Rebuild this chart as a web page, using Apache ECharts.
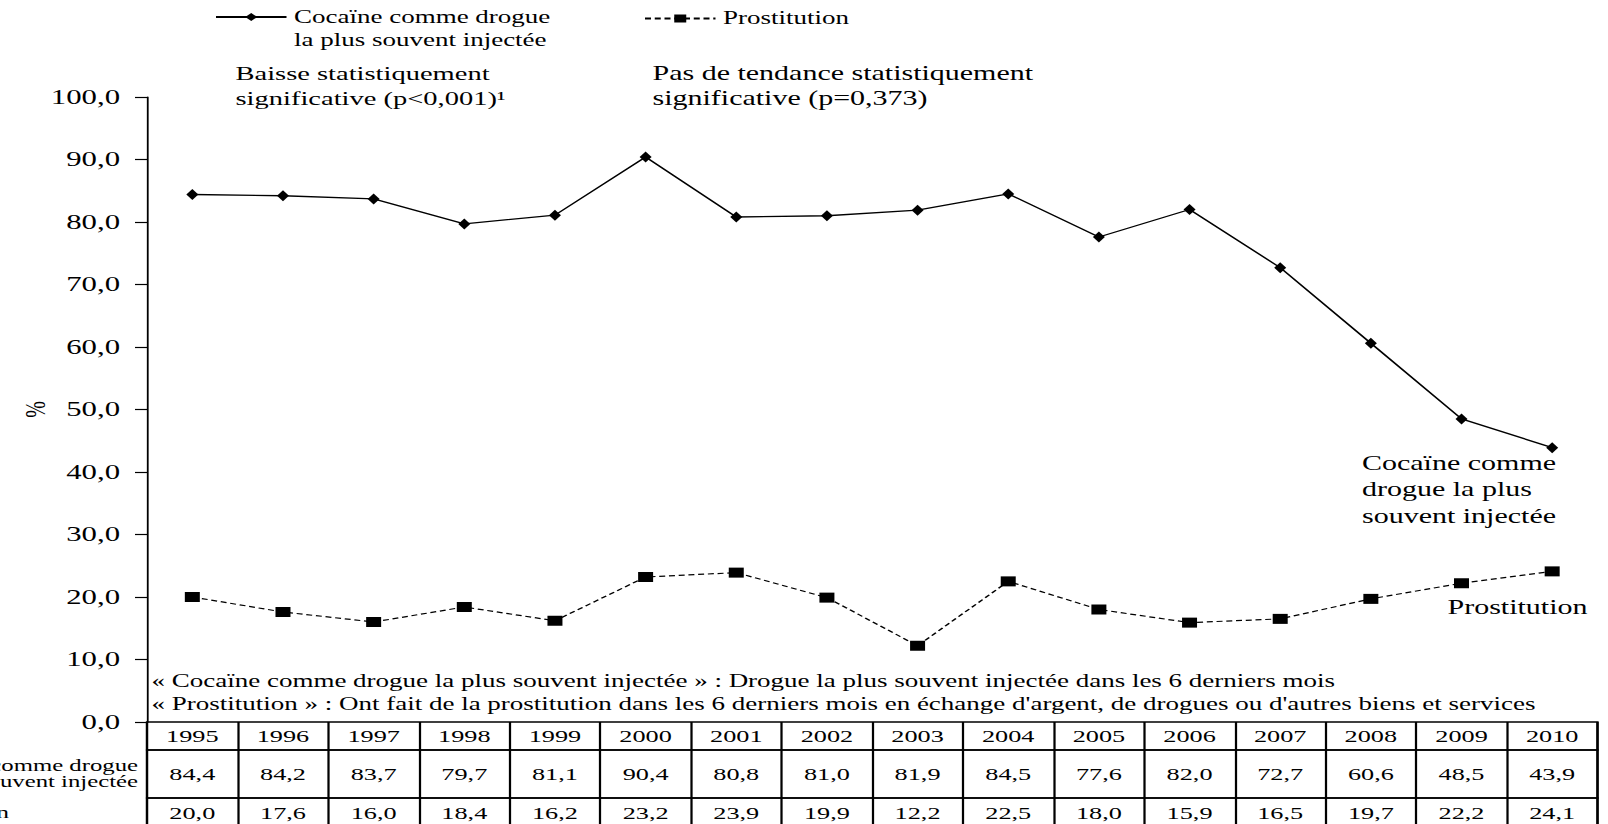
<!DOCTYPE html>
<html>
<head>
<meta charset="utf-8">
<script src="https://cdn.jsdelivr.net/npm/echarts@6/dist/echarts.min.js"></script>
<style>
html, body { margin: 0; padding: 0; background: #fff; overflow: hidden; width: 1608px; height: 824px; }
#wrap { width: 1608px; height: 824px; overflow: hidden; position: relative; }
#chart { width: 1072px; height: 824px; position: absolute; left: 0; top: 0; transform: scaleX(1.5); transform-origin: 0 0; }
</style>
</head>
<body>
<div id="wrap"><div id="chart"></div></div>
<script>
// ---- data ----
const years = ['1995','1996','1997','1998','1999','2000','2001','2002','2003','2004','2005','2006','2007','2008','2009','2010'];
const cocaine = [84.4, 84.2, 83.7, 79.7, 81.1, 90.4, 80.8, 81.0, 81.9, 84.5, 77.6, 82.0, 72.7, 60.6, 48.5, 43.9];
const prostitution = [20.0, 17.6, 16.0, 18.4, 16.2, 23.2, 23.9, 19.9, 12.2, 22.5, 18.0, 15.9, 16.5, 19.7, 22.2, 24.1];
const seriesNames = ['Cocaïne comme drogue\nla plus souvent injectée', 'Prostitution'];
const rowLabels = ['Cocaïne comme drogue\nla plus souvent injectée', 'Prostitution'];
const yMin = 0, yMax = 100, yStep = 10;
const yAxisName = '%';
const trendNotes = ['Baisse statistiquement\nsignificative (p<0,001)¹', 'Pas de tendance statistiquement\nsignificative (p=0,373)'];
const endNotes = ['Cocaïne comme\ndrogue la plus\nsouvent injectée', 'Prostitution'];
const footnotes = [
  '« Cocaïne comme drogue la plus souvent injectée » : Drogue la plus souvent injectée dans les 6 derniers mois',
  "« Prostitution » : Ont fait de la prostitution dans les 6 derniers mois en échange d'argent, de drogues ou d'autres biens et services"
];

// ---- helpers ----
const FONT = '"Liberation Serif", "Times New Roman", serif';
const fmt = v => v.toFixed(1).replace('.', ',');
const L = 98, R = 7;

const cellAxis = (grid, data, height) => ({
  type: 'category', gridIndex: grid, data: data, position: 'top', boundaryGap: true,
  axisLine: { show: false }, axisTick: { show: false },
  splitLine: { show: true, interval: 0, lineStyle: { color: '#000', width: 1.5 } },
  axisLabel: { inside: true, interval: 0, margin: height / 2, verticalAlign: 'middle',
    color: '#000', fontFamily: FONT, fontSize: 17.5 }
});
const tableGrid = (top, height) => ({ left: L, right: R, top: top, height: height, outerBoundsMode: 'none',
  containLabel: false, show: true, borderColor: '#000', borderWidth: 1.5, backgroundColor: 'transparent' });

const chart = echarts.init(document.getElementById('chart'), null, { renderer: 'svg' });
chart.setOption({
  animation: false,
  backgroundColor: '#fff',
  textStyle: { fontFamily: FONT, color: '#000' },
  legend: [
    { data: [seriesNames[0]],
      left: 143, top: 8, padding: 0, itemWidth: 47, itemHeight: 10,
      selectedMode: false,
      formatter: name => name.split('\n').map(s => '{t|' + s + '}').join('\n'),
      textStyle: { padding: [23, 0, 0, 0],
        rich: { t: { fontFamily: FONT, fontSize: 18, lineHeight: 23, color: '#000' } } } },
    { data: [seriesNames[1]],
      left: 429, top: 7.5, padding: 0, itemWidth: 47, itemHeight: 10,
      selectedMode: false, textStyle: { fontFamily: FONT, fontSize: 18, lineHeight: 22, color: '#000' } }
  ],
  grid: [
    { left: L, right: R, top: 97, bottom: 102, outerBoundsMode: 'none', containLabel: false },
    tableGrid(722, 28),
    tableGrid(750, 48),
    tableGrid(798, 30)
  ],
  xAxis: [
    { type: 'category', gridIndex: 0, data: years, boundaryGap: true, show: false },
    cellAxis(1, years, 28),
    cellAxis(2, cocaine.map(fmt), 48),
    cellAxis(3, prostitution.map(fmt), 30)
  ],
  yAxis: [
    { type: 'value', gridIndex: 0, min: yMin, max: yMax, interval: yStep,
      name: yAxisName, nameLocation: 'middle', nameGap: 65, nameRotate: 90, nameMoveOverlap: false,
      nameTextStyle: { fontFamily: FONT, fontSize: 20, color: '#000' },
      axisLine: { show: true, lineStyle: { color: '#000', width: 1.2 } },
      axisTick: { show: true, length: 8, lineStyle: { color: '#000', width: 1.2 } },
      splitLine: { show: false },
      axisLabel: { formatter: v => fmt(v), margin: 18, color: '#000', fontFamily: FONT, fontSize: 20.5 } },
    { type: 'category', gridIndex: 1, data: [''], show: false },
    { type: 'category', gridIndex: 2, data: [rowLabels[0]],
      axisLine: { show: false }, axisTick: { show: false },
      axisLabel: { margin: 6, color: '#000', fontFamily: FONT, fontSize: 16.5, lineHeight: 16 } },
    { type: 'category', gridIndex: 3, data: [rowLabels[1]],
      axisLine: { show: false }, axisTick: { show: false },
      axisLabel: { margin: 92, color: '#000', fontFamily: FONT, fontSize: 17 } }
  ],
  series: [
    { type: 'line', name: seriesNames[0], data: cocaine, xAxisIndex: 0, yAxisIndex: 0,
      symbol: 'diamond', symbolSize: [8, 11],
      lineStyle: { color: '#000', width: 1.3 }, itemStyle: { color: '#000' } },
    { type: 'line', name: seriesNames[1], data: prostitution, xAxisIndex: 0, yAxisIndex: 0,
      symbol: 'rect', symbolSize: [10, 10],
      lineStyle: { color: '#000', width: 1.2, type: [4, 2.5] }, itemStyle: { color: '#000' } }
  ],
  graphic: [
    { type: 'text', x: 157, y: 60.5, silent: true,
      style: { text: trendNotes[0], fill: '#000', fontFamily: FONT, fontSize: 19, lineHeight: 25, verticalAlign: 'top' } },
    { type: 'text', x: 435, y: 60.5, silent: true,
      style: { text: trendNotes[1], fill: '#000', fontFamily: FONT, fontSize: 20, lineHeight: 25, verticalAlign: 'top' } },
    { type: 'text', x: 908, y: 450, silent: true,
      style: { text: endNotes[0], fill: '#000', fontFamily: FONT, fontSize: 20, lineHeight: 26.5, verticalAlign: 'top' } },
    { type: 'text', x: 965, y: 607, silent: true,
      style: { text: endNotes[1], fill: '#000', fontFamily: FONT, fontSize: 20, verticalAlign: 'middle' } },
    { type: 'text', x: 101, y: 670, silent: true,
      style: { text: footnotes.join('\n'), fill: '#000', fontFamily: FONT, fontSize: 18, lineHeight: 22.5, verticalAlign: 'top' } }
  ]
});
</script>
</body>
</html>
